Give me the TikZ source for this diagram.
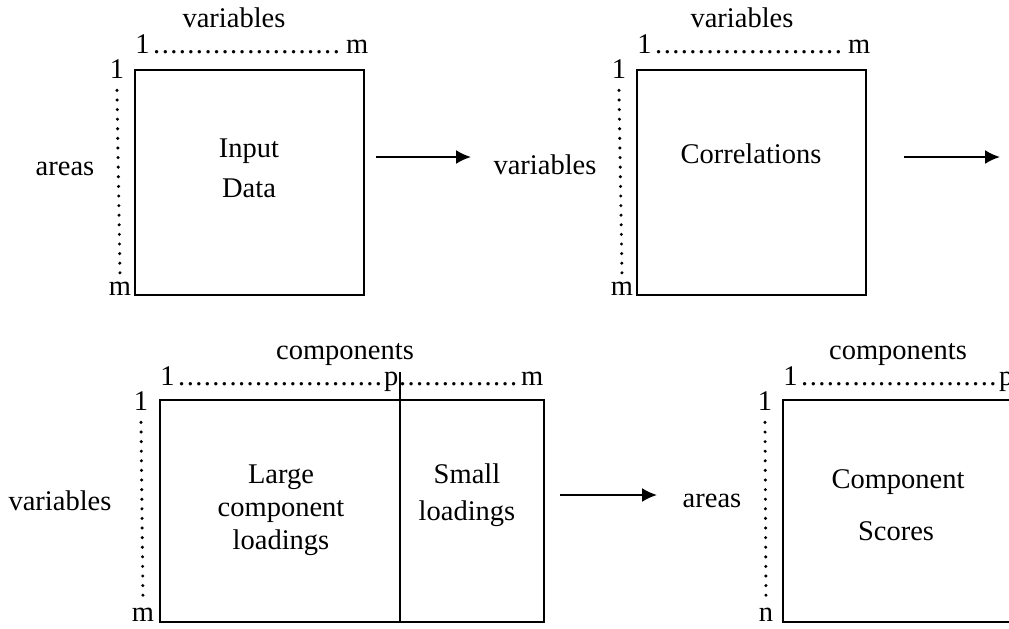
\documentclass[tikz,border=0pt]{standalone}
\usepackage{fontspec}
\setmainfont{Liberation Serif}
\usepackage{tikz}
\usetikzlibrary{arrows.meta,positioning}
\newcommand{\dotlead}{\leaders\hbox to 0.3em{\hss.\hss}\hfill}

\begin{document}
\begin{tikzpicture}[x=0.5pt,y=-0.5pt,
    font=\fontsize{14.25}{17}\selectfont,
    matbox/.style={draw,line width=1pt,inner sep=0pt,outer sep=0pt,anchor=north west},
    lbl/.style={inner sep=0pt,anchor=base},
    vdots/.style={line width=1.7pt,line cap=round,dash pattern=on 0pt off 4.8pt},
    flow/.style={-{Latex[length=7.5pt,width=7pt]},line width=1pt}]
    \useasboundingbox (0,0) rectangle (1009,628);
    \clip (0,0) rectangle (1009,628);

    % input data
    \node[matbox,minimum width=114.5pt,minimum height=112.5pt] (inbox) at (135,70) {};
    \node[lbl] (intitle) at (234,27) {variables};
    \node[lbl,anchor=base west] (inrow) at (135,53) {\makebox[116.5pt]{1\dotlead m}};
    \node[lbl] (intop) at (117,78) {1};
    \node[lbl] (inbot) at (120,295) {m};
    \node[lbl] (inside) at (65,175) {areas};
    \node[lbl] (intxt1) at (249,157) {Input};
    \node[lbl] (intxt2) at (249,197) {Data};
    \draw[vdots] ([yshift=-6pt]intop.south) -- ([yshift=3pt]inbot.north);

    % correlations
    \node[matbox,minimum width=114.5pt,minimum height=112.5pt] (corbox) at (637,70) {};
    \node[lbl] (cortitle) at (742,27) {variables};
    \node[lbl,anchor=base west] (corrow) at (637,53) {\makebox[116.5pt]{1\dotlead m}};
    \node[lbl] (cortop) at (619,78) {1};
    \node[lbl] (corbot) at (622,295) {m};
    \node[lbl] (corside) at (545,174) {variables};
    \node[lbl] (cortxt) at (751,163) {Correlations};
    \draw[vdots] ([yshift=-6pt]cortop.south) -- ([yshift=3pt]corbot.north);

    % loadings
    \node[matbox,minimum width=192pt,minimum height=111pt] (ldbox) at (160,400) {};
    \node[lbl] (ldtitle) at (345,359) {components};
    \node[lbl,anchor=base west] (ldrow) at (160,385) {\makebox[119pt][l]{1\dotlead p}\makebox[72.5pt]{\dotlead m}};
    \node[lbl] (ldtop) at (141,410) {1};
    \node[lbl] (ldbot) at (143,621) {m};
    \node[lbl] (ldside) at (60,510) {variables};
    \node[lbl] (ldtxt1) at (281,483) {Large};
    \node[lbl] (ldtxt2) at (281,516) {component};
    \node[lbl] (ldtxt3) at (281,549) {loadings};
    \node[lbl] (smtxt1) at (467,483) {Small};
    \node[lbl] (smtxt2) at (467,520) {loadings};
    \coordinate (divtop) at (400,372);
    \draw[line width=1pt] (divtop) -- (ldbox.south -| divtop);
    \draw[vdots] ([yshift=-6pt]ldtop.south) -- ([yshift=3pt]ldbot.north);

    % component scores
    \node[matbox,minimum width=123.5pt,minimum height=111pt] (scbox) at (783,400) {};
    \node[lbl] (sctitle) at (898,359) {components};
    \node[lbl,anchor=base west] (scrow) at (783,385) {\makebox[115pt]{1\dotlead p}};
    \node[lbl] (sctop) at (765,410) {1};
    \node[lbl] (scbot) at (766,621) {n};
    \node[lbl] (scside) at (712,507) {areas};
    \node[lbl] (sctxt1) at (898,488) {Component};
    \node[lbl] (sctxt2) at (896,540) {Scores};
    \draw[vdots] ([yshift=-6pt]sctop.south) -- ([yshift=3pt]scbot.north);

    % arrows
    \coordinate (arr1) at (471,157);
    \coordinate (arr2) at (1000,157);
    \coordinate (arr3) at (657,495);
    \draw[flow] ([xshift=6pt]inbox.east |- arr1) -- (arr1);
    \draw[flow] ([xshift=19pt]corbox.east |- arr2) -- (arr2);
    \draw[flow] ([xshift=8pt]ldbox.east |- arr3) -- (arr3);
\end{tikzpicture}
\end{document}
